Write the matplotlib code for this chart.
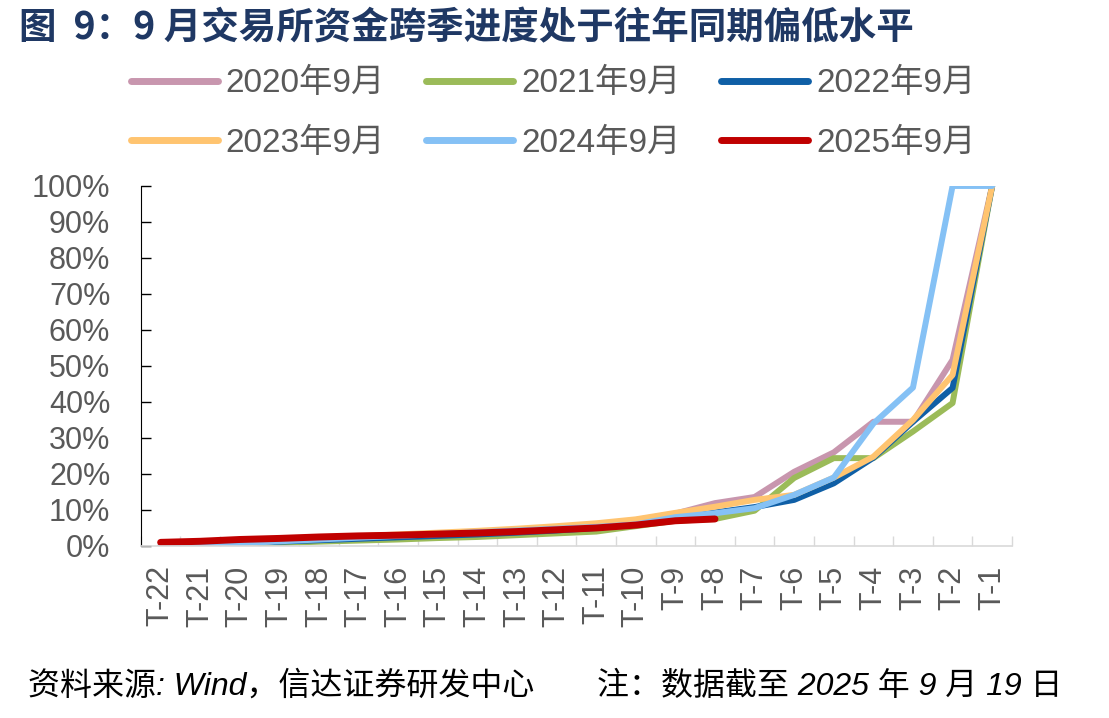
import matplotlib
matplotlib.use('Agg')
import matplotlib.pyplot as plt
import numpy as np

plt.rcParams['font.family'] = ['Liberation Sans', 'Noto Sans CJK SC', 'DejaVu Sans']

# categories T-22 ... T-1
cats = ['T-%d' % k for k in range(22, 0, -1)]

# series values (%)
y2020 = [0, 0.3, 0.8, 1.3, 1.8, 2.3, 2.8, 3.3, 3.8, 4.5, 5.2, 6.0, 7.2, 9.0, 11.9, 13.6, 20.6, 26.0, 34.5, 34.5, 51.7, 100]
y2021 = [0, 0, 0.2, 0.8, 1.2, 1.5, 1.8, 2.2, 2.5, 3.0, 3.5, 4.0, 5.5, 7.0, 7.5, 9.8, 18.9, 24.4, 24.4, 31.8, 39.7, 100]
y2022 = [0, 0.3, 0.8, 1.2, 1.6, 2.0, 2.4, 2.8, 3.2, 3.7, 4.3, 5.0, 6.0, 7.5, 9.3, 10.8, 12.8, 17.4, 24.5, 34.5, 43.9, 100]
y2023 = [0, 0, 0.5, 1.5, 2.2, 2.7, 3.2, 3.7, 4.2, 4.8, 5.5, 6.3, 7.4, 9.2, 10.9, 12.8, 14.2, 19.0, 24.8, 35.0, 47.5, 100]
y2024 = [0, 0.2, 0.8, 1.3, 1.8, 2.3, 2.8, 3.3, 3.8, 4.3, 4.8, 5.3, 6.0, 8.0, 9.1, 10.5, 14.2, 19.0, 34.0, 44.0, 100, 100]
y2025 = [1.0, 1.3, 1.8, 2.1, 2.5, 2.8, 3.0, 3.3, 3.6, 4.0, 4.5, 5.0, 5.8, 7.0, 7.5]

labels = ['2020年9月', '2021年9月', '2022年9月', '2023年9月', '2024年9月', '2025年9月']
colors = ['#C896AE', '#9BBB59', '#0F5FA6', '#FFC470', '#85C1F5', '#C00000']
series = [y2020, y2021, y2022, y2023, y2024, y2025]

fig = plt.figure(figsize=(11.09, 7.18), dpi=100)
ax = fig.add_axes([0.127, 0.2396, 0.7855, 0.5014])

lines = []
for s, c, lab in zip(series, colors, labels):
    x = np.arange(len(s))
    lw = 5 if lab == '2025年9月' else 4.3
    l, = ax.plot(x, s, color=c, lw=lw, label=lab, solid_capstyle='round')
    lines.append(l)

ax.set_xlim(-0.5, 21.5)
ax.set_ylim(0, 100)
ax.set_yticks(np.arange(0, 101, 10))
ax.set_yticklabels(['%d%%' % v for v in range(0, 101, 10)])
ax.set_xticks(np.arange(22))
ax.set_xticklabels(cats, rotation=90)
ax.set_xticks(np.arange(-0.5, 22, 1), minor=True)

grey = '#595959'
ax.tick_params(axis='y', direction='in', length=7, width=1, color='black',
               labelsize=22, labelcolor=grey, pad=22)
ax.tick_params(axis='x', which='major', length=0, labelsize=22, labelcolor=grey, pad=14)
ax.tick_params(axis='x', which='minor', direction='in', length=7, width=1, color='#D9D9D9')

for sp in ['top', 'right']:
    ax.spines[sp].set_visible(False)
ax.spines['left'].set_color('black')
ax.spines['bottom'].set_color('#D9D9D9')
ax.spines['bottom'].set_linewidth(1.2)

# legend: rows 2020/2021/2022 then 2023/2024/2025
order = [0, 3, 1, 4, 2, 5]
leg = fig.legend([lines[i] for i in order], [labels[i] for i in order],
                 loc='upper left', bbox_to_anchor=(0.118, 0.905), ncol=3,
                 frameon=False, fontsize=24, handlelength=2.6, handletextpad=0.25,
                 columnspacing=1.22, labelspacing=0.85, borderpad=0, borderaxespad=0)
for t in leg.get_texts():
    t.set_color(grey)
for h in leg.legend_handles:
    h.set_linewidth(5)

fig.text(0.017, 0.961, '图  9：9 月交易所资金跨季进度处于往年同期偏低水平',
         fontsize=27, fontweight='bold', color='#1F3864', va='center',
         family=['Noto Sans CJK SC', 'DejaVu Sans'])

fig.text(0.025, 0.044, '资料来源: Wind，信达证券研发中心', fontsize=23, style='italic',
         color='black', va='center')
fig.text(0.538, 0.044, '注：数据截至 2025 年 9 月 19 日', fontsize=23, style='italic',
         color='black', va='center')

fig.savefig('out.png', dpi=100)
